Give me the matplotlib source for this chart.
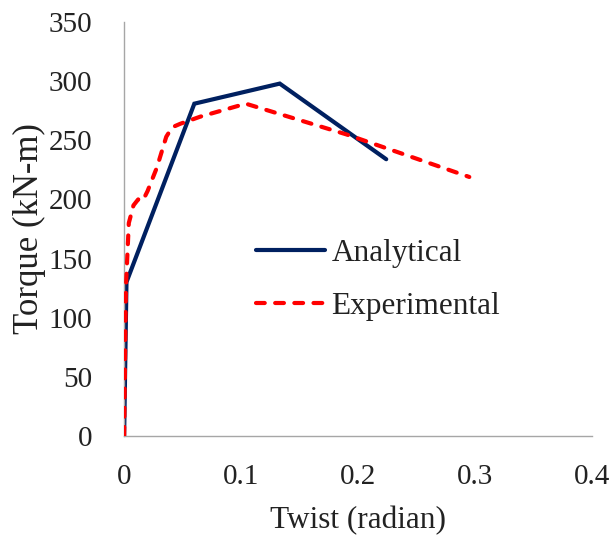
import matplotlib
matplotlib.use("Agg")
import matplotlib.pyplot as plt

ana_x = [0.0, 0.002, 0.060, 0.133, 0.224]
ana_y = [0, 130, 281, 298, 234]

exp_x = [0.0, 0.0015, 0.004, 0.008, 0.012, 0.016, 0.020, 0.028, 0.036, 0.041, 0.048, 0.065, 0.104, 0.190, 0.295]
exp_y = [0, 125, 180, 195, 200, 199, 207, 227, 253, 261, 264, 270, 281, 255, 219]

xticks = [0, 0.1, 0.2, 0.3, 0.4]
xticklabels = ["0", "0.1", "0.2", "0.3", "0.4"]
yticks = [0, 50, 100, 150, 200, 250, 300, 350]

plt.rcParams['font.family'] = ['Liberation Serif', 'DejaVu Serif']

fig = plt.figure(figsize=(6.13, 5.40), dpi=100)
ax = fig.add_axes([0.2025, 0.193, 0.7635, 0.766])

ax.plot(ana_x, ana_y, color='#002060', lw=3.0, solid_capstyle='round',
        solid_joinstyle='miter', label='Analytical', zorder=2)
ax.plot(exp_x, exp_y, color='#FF0000', lw=3.0, linestyle=(0, (2.1, 2.5)),
        dash_capstyle='round', label='Experimental', zorder=3)

ax.set_xlim(0, 0.4)
ax.set_ylim(0, 350)
ax.set_xticks(xticks)
ax.set_xticklabels(xticklabels)
ax.set_yticks(yticks)
ax.tick_params(axis='both', length=0, labelsize=21, colors='#222222')
ax.tick_params(axis='y', pad=23)
ax.tick_params(axis='x', pad=20)

for s in ['top', 'right']:
    ax.spines[s].set_visible(False)
for s in ['left', 'bottom']:
    ax.spines[s].set_color('#A6A6A6')
    ax.spines[s].set_linewidth(1.0)

ax.set_xlabel('Twist (radian)', fontsize=22.5, color='#222222', labelpad=12)
ax.set_ylabel('Torque (kN-m)', fontsize=25, color='#222222', labelpad=2)

leg = ax.legend(loc='upper left', bbox_to_anchor=(0.255, 0.505), frameon=False,
                fontsize=22.5, handlelength=2.2, handletextpad=0.22,
                labelspacing=0.75, borderaxespad=0)
for t in leg.get_texts():
    t.set_color('#222222')

fig.savefig('out.png', dpi=100)
